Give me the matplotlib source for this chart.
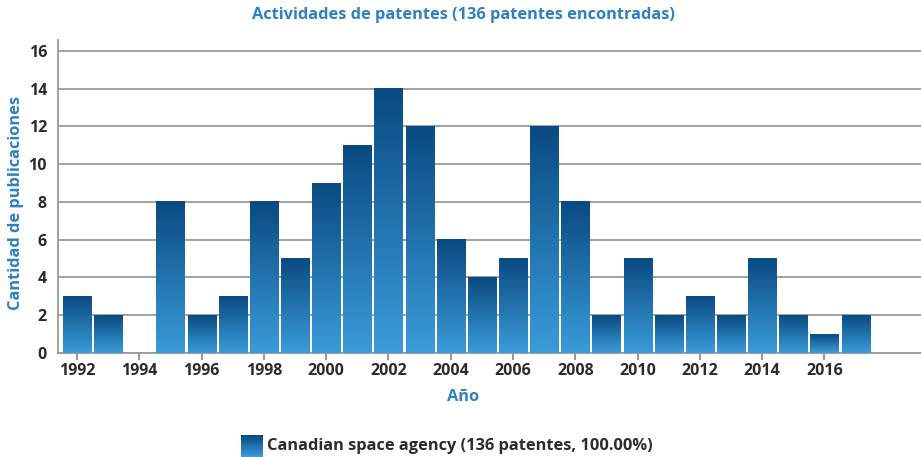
import matplotlib
matplotlib.use("Agg")
import matplotlib.pyplot as plt
import numpy as np
from matplotlib.colors import LinearSegmentedColormap
from matplotlib.patches import Rectangle
from matplotlib.legend_handler import HandlerBase

years = list(range(1992, 2018))
counts = [3, 2, 0, 8, 2, 3, 8, 5, 9, 11, 14, 12, 6, 4, 5, 12, 8, 2, 5, 2, 3, 2, 5, 2, 1, 2]
xticks = list(range(1992, 2017, 2))
yticks = list(range(0, 17, 2))

title = "Actividades de patentes (136 patentes encontradas)"
legend_label = "Canadian space agency (136 patentes, 100.00%)"

top_color = "#0a4a82"
bottom_color = "#3a9cd9"
blue_text = "#2f7fc1"
dark_text = "#2b2b2b"

plt.rcParams['font.family'] = ['Open Sans', 'DejaVu Sans']
plt.rcParams['font.weight'] = 'bold'

cmap = LinearSegmentedColormap.from_list("grad", [bottom_color, top_color])

fig = plt.figure(figsize=(9.21, 4.57), dpi=100)
ax = fig.add_axes([0.063, 0.2276, 0.937, 0.685])

# gradient bars, each one dark at its own top
width = 0.9
grad = np.linspace(0, 1, 256).reshape(-1, 1)
for x, h in zip(years, counts):
    if h <= 0:
        continue
    ax.imshow(grad, extent=[x - width / 2, x + width / 2, 0, h], origin="lower",
              aspect="auto", cmap=cmap, zorder=3, interpolation="bilinear")

ax.set_xlim(1991.39, 2019.1)
ax.set_ylim(0, 16.58)
ax.set_aspect("auto")

ax.set_yticks(yticks)
ax.set_xticks(xticks)
ax.yaxis.grid(True, color="#9a9a9a", linewidth=1.3, zorder=0)
ax.set_axisbelow(True)

for s in ["top", "right"]:
    ax.spines[s].set_visible(False)
ax.spines["left"].set_color("#9a9a9a")
ax.spines["left"].set_linewidth(1.3)
ax.spines["bottom"].set_color("#9a9a9a")
ax.spines["bottom"].set_linewidth(1.3)
ax.tick_params(axis="y", length=0, pad=8, labelsize=11.5, labelcolor=dark_text)
ax.tick_params(axis="x", length=5, width=1.5, color="#9a9a9a", pad=2,
               labelsize=11.5, labelcolor=dark_text)
for lab in ax.get_xticklabels() + ax.get_yticklabels():
    lab.set_fontweight("bold")

ax.set_xlabel("Año", color=blue_text, fontsize=11.8, fontweight="bold")
ax.xaxis.set_label_coords(0.469, -0.115)
ax.set_ylabel("Cantidad de publicaciones", color=blue_text, fontsize=11.8,
              fontweight="bold")
ax.yaxis.set_label_coords(-0.04, 0.48)
fig.text(0.503, 0.968, title, ha="center", va="center", color=blue_text,
         fontsize=11.8, fontweight="bold")


class GradientHandler(HandlerBase):
    def create_artists(self, legend, orig_handle, xdescent, ydescent, width,
                       height, fontsize, trans):
        arts = []
        n = 24
        size = height * 1.9
        x0 = -xdescent + (width - size) / 2
        y0 = -ydescent - (size - height) / 2 - height * 0.25
        for i in range(n):
            c = cmap(1 - i / (n - 1))
            r = Rectangle((x0, y0 + size - (i + 1) * size / n), size, size / n + 0.3,
                          facecolor=c, edgecolor="none", transform=trans)
            arts.append(r)
        return arts


handle = Rectangle((0, 0), 1, 1)
leg = fig.legend([handle], [legend_label], handler_map={Rectangle: GradientHandler()},
                 loc="center", bbox_to_anchor=(0.486, 0.025), frameon=False,
                 fontsize=11.8, handlelength=1.2, handletextpad=0.35)
for t in leg.get_texts():
    t.set_color(dark_text)
    t.set_fontweight("bold")

fig.savefig("out.png", dpi=100)
